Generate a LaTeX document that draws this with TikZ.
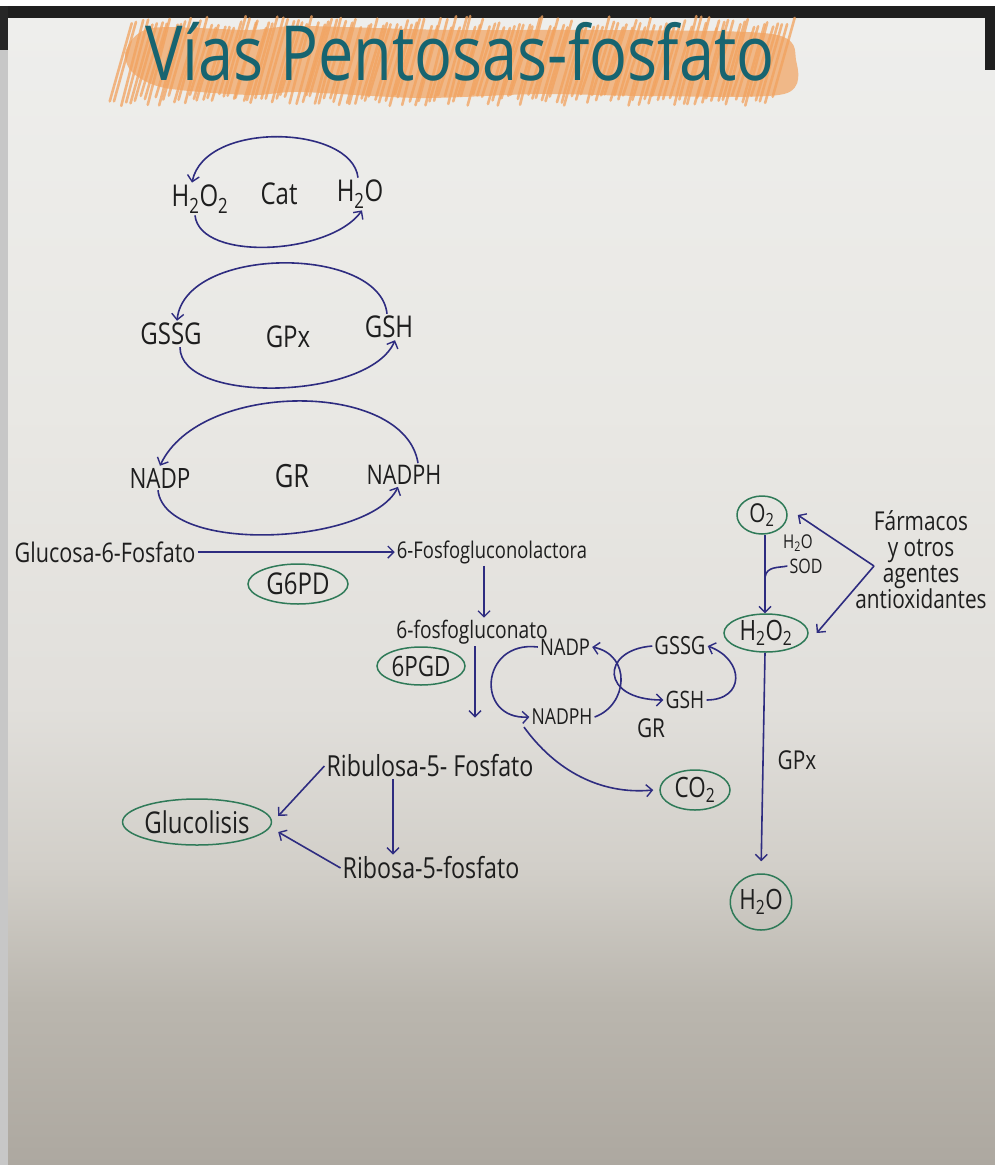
\documentclass[tikz,border=0pt]{standalone}
\usepackage{fontspec}
\setmainfont{Open Sans}
\newfontfamily\hand[FakeStretch=0.8]{Open Sans}
\newfontfamily\titlefont[FakeStretch=0.83]{Open Sans}
\usetikzlibrary{arrows.meta,shapes.geometric,calc}
\definecolor{ink}{HTML}{2E2C80}
\definecolor{txt}{HTML}{1E1E1E}
\definecolor{grn}{HTML}{2F7A58}
\definecolor{ttl}{HTML}{176470}
\definecolor{org}{HTML}{F2A25E}
\definecolor{pa}{RGB}{173,168,160}
\definecolor{pb}{RGB}{186,182,174}
\definecolor{pc}{RGB}{210,207,201}
\definecolor{pd}{RGB}{225,223,219}
\definecolor{pe}{RGB}{233,232,228}
\definecolor{pf}{RGB}{238,238,236}
\pgfdeclareverticalshading{paper}{100bp}{color(0bp)=(pa); color(25bp)=(pa); color(32bp)=(pb); color(38bp)=(pc); color(45bp)=(pd); color(58bp)=(pe); color(75bp)=(pf); color(100bp)=(pf)}
\begin{document}
\begin{tikzpicture}[x=1pt,y=-1pt,
  lbl/.style={font=\hand\fontsize{#1}{#1}\selectfont, text=txt, inner sep=2pt},
  lbl/.default=28,
  oval/.style={ellipse, draw=grn, line width=1.5pt, inner sep=0pt},
  ar/.style={draw=ink, line width=1.6pt, -{Straight Barb[length=6pt,width=12pt,line width=1.4pt]}},
  ln/.style={draw=ink, line width=1.6pt},
  hatch/.style={org, line width=2.6pt, line cap=round, opacity=.75}]
% background
\useasboundingbox (0,0) rectangle (995,1165);
\fill[white] (0,0) rectangle (995,1165);
\shade[shading=paper] (8,18) rectangle (995,1165);
\fill[black!88] (0,6) rectangle (995,18);
\fill[black!88] (985,6) rectangle (995,70);
\fill[black!85] (0,6) rectangle (8,50);
\fill[black!22] (0,50) rectangle (8,1165);
% title highlight
\fill[org, opacity=.7] plot[smooth cycle] coordinates {(126,50) (152,28) (250,30) (300,26) (450,30) (600,30) (772,34) (796,60) (784,94) (650,96) (540,94) (420,98) (300,92) (250,95) (165,88) (132,72)};
\pgfmathsetseed{7}
\foreach \i in {0,...,135}{
  \pgfmathsetmacro\xa{110+\i*4.9+rand*2}
  \pgfmathsetmacro\ya{100+rand*6}
  \pgfmathsetmacro\yb{22+rand*6}
  \draw[hatch] (\xa,\ya) -- (\xa+22,\yb);
}
\node[font=\titlefont\fontsize{76}{76}\selectfont, text=ttl] (title) at (460,52) {Vías Pentosas-fosfato};
% cycle 1
\node[lbl=30] (h2oxA) at (200,199) {H\textsubscript{2}O\textsubscript{2}};
\node[lbl=30] (catA) at (279,194) {Cat};
\node[lbl=30] (h2oA) at (360,194) {H\textsubscript{2}O};
\draw[ar] ([xshift=-2]h2oA.north) .. controls (352,125) and (205,120) .. ([xshift=-8]h2oxA.north);
\draw[ar] ([xshift=-5]h2oxA.south) .. controls (200,262) and (330,255) .. ([xshift=2]h2oA.south);
% cycle 2
\node[lbl=30] (gssgA) at (171,334) {GSSG};
\node[lbl=30] (gpxA) at (288,337) {GPx};
\node[lbl=30] (gshA) at (389,327) {GSH};
\draw[ar] ([xshift=-2]gshA.north) .. controls (380,245) and (185,245) .. ([xshift=6]gssgA.north);
\draw[ar] ([xshift=9]gssgA.south) .. controls (180,405) and (370,400) .. ([xshift=6]gshA.south);
% cycle 3
\node[lbl=28] (nadpA) at (160,478) {NADP};
\node[lbl=32] (grA) at (292,476) {GR};
\node[lbl=27] (nadphA) at (404,475) {NADPH};
\draw[ar] ([xshift=14]nadphA.north) .. controls (405,380) and (200,380) .. (nadpA.north);
\draw[ar] ([xshift=-2]nadpA.south) .. controls (165,555) and (370,545) .. ([xshift=-6]nadphA.south);
% main path
\node[lbl=27] (g6p) at (105,552) {Glucosa-6-Fosfato};
\node[lbl=23] (lact) at (492,552) {6-Fosfogluconolactora};
\draw[ar] (g6p.east) -- (lact.west);
\node[lbl=30, oval, minimum width=100, minimum height=40] (g6pd) at (298,584) {G6PD};
\node[lbl=24] (pgl) at (472,632) {6-fosfogluconato};
\draw[ar] ([xshift=-8]lact.south) -- ([xshift=12]pgl.north);
\node[lbl=28, oval, minimum width=88, minimum height=38] (pgd) at (421,666) {6PGD};
\node[lbl=29] (ribu) at (430,766) {Ribulosa-5- Fosfato};
\draw[ar] ([xshift=3]pgl.south) -- ([shift={(45,-35)}]ribu.north);
% NADP / GSSG exchange
\node[lbl=23] (nadpB) at (565,647) {NADP};
\node[lbl=22] (nadphB) at (562,717) {NADPH};
\node[lbl=25] (gssgB) at (680,646) {GSSG};
\node[lbl=24] (gshB) at (685,700) {GSH};
\node[lbl=26] (grB) at (651,728) {GR};
\draw[ar] (nadpB.west) .. controls (480,640) and (475,720) .. (nadphB.west);
\draw[ar] (nadphB.east) .. controls (628,705) and (632,655) .. (nadpB.east);
\draw[ar] (gssgB.west) .. controls (600,650) and (600,700) .. (gshB.west);
\draw[ar] (gshB.east) .. controls (745,700) and (745,660) .. (gssgB.east);
% right column
\node[lbl=26, oval, minimum width=50, minimum height=38] (o2) at (762,515) {O\textsubscript{2}};
\node[lbl=28, oval, minimum width=84, minimum height=38] (h2o2B) at (766,633) {H\textsubscript{2}O\textsubscript{2}};
\draw[ar] ([xshift=3]o2.south) -- ([xshift=-1]h2o2B.north);
\coordinate (sodj) at (765,577);
\node[lbl=19] (h2oS) at (798,543) {H\textsubscript{2}O};
\node[lbl=20] (sod) at (806,566) {SOD};
\draw[ln] (sodj) .. controls (767,566) and (778,568) .. (sod.west);
\node[lbl=26, align=center] (farm) at (921,560) {Fármacos\\y otros\\agentes\\antioxidantes};
\coordinate (fv) at (874,566);
\draw[ar] (fv) -- ([xshift=10]o2.east);
\draw[ar] (fv) -- ([xshift=8]h2o2B.east);
\node[lbl=28, oval, minimum width=58, minimum height=56] (h2oF) at (761,902) {H\textsubscript{2}O};
\draw[ar, shorten >=12pt] ([xshift=-1]h2o2B.south) -- (h2oF.north);
\node[lbl=26] (gpxB) at (797,760) {GPx};
\node[lbl=28, oval, minimum width=70, minimum height=40] (co2) at (695,790) {CO\textsubscript{2}};
\draw[ar] ([xshift=-38]nadphB.south) .. controls (555,770) and (600,795) .. ([xshift=-6]co2.west);
% glycolysis
\node[lbl=30, oval, minimum width=125, minimum height=46] (gluc) at (197,822) {Glucolisis};
\node[lbl=29] (ribo) at (431,868) {Ribosa-5-fosfato};
\draw[ar] (ribu.west) -- ([shift={(6,-6)}]gluc.east);
\draw[ar] ([xshift=-37]ribu.south) -- ([xshift=-38]ribo.north);
\draw[ar] (ribo.west) -- ([shift={(6,10)}]gluc.east);
\end{tikzpicture}
\end{document}
